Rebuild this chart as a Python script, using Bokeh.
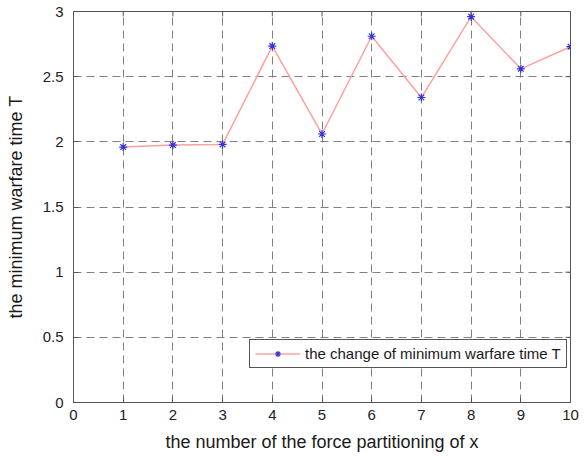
import math
from bokeh.plotting import figure
from bokeh.models import ColumnDataSource, FixedTicker, Range1d, Legend, LegendItem
from bokeh.embed import file_html
from bokeh.resources import INLINE

x_vals = [1, 2, 3, 4, 5, 6, 7, 8, 9, 10]
t_vals = [1.96, 1.975, 1.98, 2.735, 2.06, 2.81, 2.34, 2.96, 2.56, 2.73]
x_ticks = [0, 1, 2, 3, 4, 5, 6, 7, 8, 9, 10]
y_ticks = [0, 0.5, 1, 1.5, 2, 2.5, 3]
series_label = "the change of minimum warfare time T"

src = ColumnDataSource(data=dict(x=x_vals, y=t_vals))

FONT = "Liberation Sans"
FRAME = "#555555"

x_lo, x_hi = x_ticks[0], x_ticks[-1]
y_lo, y_hi = y_ticks[0], y_ticks[-1]

p = figure(width=584, height=456, output_backend="svg", toolbar_location=None,
           x_range=Range1d(x_lo, x_hi), y_range=Range1d(y_lo, y_hi),
           min_border_left=73, min_border_right=14, min_border_top=11, min_border_bottom=54)

p.outline_line_color = FRAME
p.outline_line_width = 1
p.background_fill_color = "white"

for ax, ticks in ((p.xaxis[0], x_ticks), (p.yaxis[0], y_ticks)):
    ax.ticker = FixedTicker(ticks=ticks)
    ax.major_tick_in = 5
    ax.major_tick_out = 0
    ax.minor_tick_line_color = None
    ax.axis_line_color = FRAME
    ax.major_tick_line_color = FRAME
    ax.major_label_text_font = FONT
    ax.major_label_text_font_size = "15px"
    ax.major_label_text_color = "#222222"
    ax.axis_label_text_font = FONT
    ax.axis_label_text_font_size = "18px"
    ax.axis_label_text_font_style = "normal"
    ax.axis_label_text_color = "#1a1a1a"

p.xaxis[0].axis_label = "the number of the force partitioning of x"
p.yaxis[0].axis_label = "the minimum warfare time T"
p.xaxis[0].major_label_standoff = 7
p.yaxis[0].major_label_standoff = 10
p.xaxis[0].axis_label_standoff = 9
p.yaxis[0].axis_label_standoff = 14

for g, ticks in ((p.xgrid[0], x_ticks), (p.ygrid[0], y_ticks)):
    g.ticker = FixedTicker(ticks=ticks)
    g.grid_line_color = "#808080"
    g.grid_line_dash = "8 5"
    g.grid_line_width = 1

# mirrored (box-style) tick marks on the top and right edges, clipped to the frame
p.scatter(x=x_ticks, y=[y_hi] * len(x_ticks), marker="dash", angle=math.pi / 2,
          size=10, line_color=FRAME, line_width=1)
p.scatter(x=[x_hi] * len(y_ticks), y=y_ticks, marker="dash",
          size=10, line_color=FRAME, line_width=1)

ln = p.line("x", "y", source=src, line_color="#ffa0a0", line_width=1.5)
sc = p.scatter("x", "y", source=src, marker="asterisk", size=8, line_color="#3434d8", line_width=1.2)

legend = Legend(items=[LegendItem(label=series_label, renderers=[ln, sc])],
                location=(176, 34))
legend.label_text_font = FONT
legend.label_text_font_size = "15px"
legend.label_text_color = "#1a1a1a"
legend.border_line_color = FRAME
legend.border_line_alpha = 1
legend.glyph_width = 45
legend.glyph_height = 15
legend.padding = 5
legend.spacing = 0
legend.margin = 0
legend.label_standoff = 5
legend.label_height = 15
legend.background_fill_alpha = 1
p.add_layout(legend)

open("out.html", "w").write(file_html(p, INLINE))
